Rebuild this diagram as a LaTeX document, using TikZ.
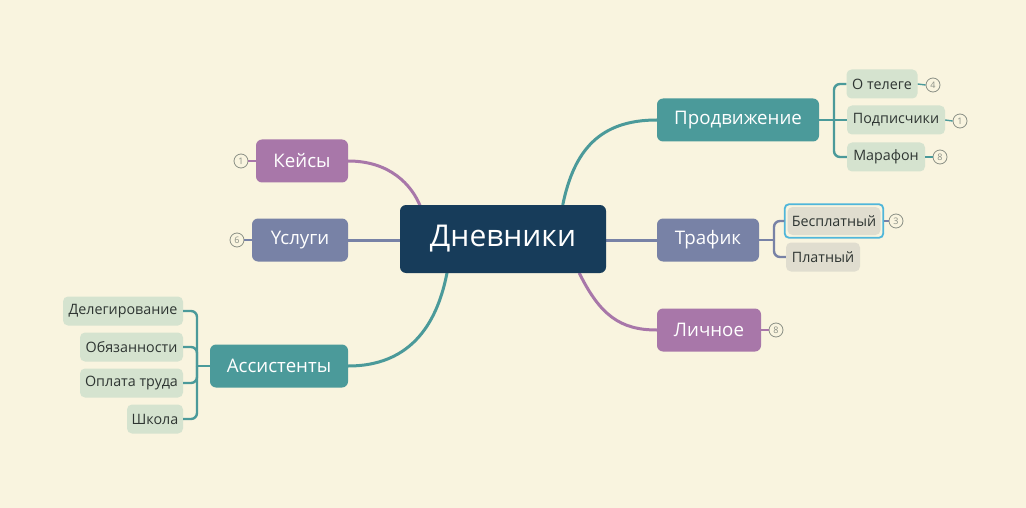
\documentclass[tikz,border=0pt]{standalone}
\usepackage{fontspec}
\setmainfont{Open Sans}
\usetikzlibrary{calc}
\definecolor{bg}{HTML}{F9F4DF}
\definecolor{rootc}{HTML}{173C5A}
\definecolor{tealc}{HTML}{4B9A9A}
\definecolor{slatec}{HTML}{7882A6}
\definecolor{purpc}{HTML}{A877A9}
\definecolor{greenleaf}{HTML}{D5E3CF}
\definecolor{grayleaf}{HTML}{E0DDCF}
\definecolor{selc}{HTML}{4FB6DA}
\definecolor{numc}{HTML}{8A8F85}
\definecolor{leaftext}{HTML}{2E3532}
\tikzset{
  rootbox/.style={fill=rootc, rounded corners=6pt, text=white, font=\fontsize{30}{36}\selectfont, minimum width=206pt, minimum height=68pt, inner sep=0pt},
  mainbox/.style={fill=#1, rounded corners=6pt, text=white, font=\fontsize{18.7}{22}\selectfont, minimum height=43pt, inner sep=0pt},
  leafbox/.style={fill=#1, rounded corners=5pt, text=leaftext, font=\fontsize{14.3}{17}\selectfont, minimum height=29pt, inner sep=0pt},
  numc/.style={circle, draw=numc, line width=0.8pt, fill=bg, minimum size=14pt, inner sep=0pt, text=numc, font=\fontsize{9}{10}\selectfont},
  branch/.style={draw=#1, line width=3pt},
  sub/.style={draw=#1, line width=2.4pt, rounded corners=6pt},
  tick/.style={draw=#1, line width=1.4pt},
}
\begin{document}
\begin{tikzpicture}[x=1pt,y=-1pt]
\fill[bg] (0,0) rectangle (1026,508);
\useasboundingbox (0,0) rectangle (1026,508);

% main nodes
\node[mainbox=tealc, minimum width=162pt] (prod) at (738,120) {Продвижение};
\node[mainbox=slatec, minimum width=102pt] (traf) at (708,240) {Трафик};
\node[mainbox=purpc, minimum width=104pt] (lich) at (709,330) {Личное};
\node[mainbox=purpc, minimum width=92pt] (keis) at (302,161) {Кейсы};
\node[mainbox=slatec, minimum width=96pt] (usl) at (300,240) {Үслуги};
\node[mainbox=tealc, minimum width=138pt] (ass) at (279,366) {Ассистенты};

% branches (drawn before root)
\draw[branch=tealc] ($(400,205)!0.79!(606,205)$) .. controls (574,150) and (600,120) .. (prod.west);
\draw[branch=slatec] (606,240) -- (traf.west);
\draw[branch=purpc] ($(400,273)!0.87!(606,273)$) .. controls (600,315) and (620,330) .. (lich.west);
\draw[branch=purpc] (keis.east) .. controls (390,161) and (412,185) .. ($(400,207)!0.1!(606,207)$);
\draw[branch=slatec] (usl.east) -- (400,240);
\draw[branch=tealc] (ass.east) .. controls (420,366) and (440,310) .. ($(400,271)!0.23!(606,271)$);

\node[rootbox] (root) at (503,239) {Дневники};

% Продвижение leaves
\node[leafbox=greenleaf, minimum width=71pt] (tel) at (882,84) {О телеге};
\node[leafbox=greenleaf, minimum width=98pt] (pod) at (896,120) {Подписчики};
\node[leafbox=greenleaf, minimum width=78pt] (mar) at (886,157) {Марафон};
\coordinate (pb) at (834,120);
\draw[sub=tealc] (prod.east) -- (pb);
\draw[sub=tealc] (tel.west) -- (tel.west -| pb) -- (pb);
\draw[sub=tealc] (mar.west) -- (mar.west -| pb) -- (pb);
\draw[sub=tealc] (pod.west) -- (pb);

% Трафик leaves
\node[leafbox=grayleaf, minimum width=93pt, minimum height=28pt] (besp) at (834,221) {Бесплатный};
\draw[selc, line width=1.8pt, rounded corners=4pt] ($(besp.south west)+(-2.5,2.5)$) rectangle ($(besp.north east)+(2.5,-2.5)$);
\node[leafbox=grayleaf, minimum width=74pt] (plat) at (823,257) {Платный};
\coordinate (tb) at (774,240);
\draw[sub=slatec] (traf.east) -- (tb);
\draw[sub=slatec] ($(besp.west)+(-3,0)$) -- (besp.west -| tb) -- (tb);
\draw[sub=slatec] (plat.west) -- (plat.west -| tb) -- (tb);

% Ассистенты leaves
\node[leafbox=greenleaf, minimum width=120pt] (deleg) at (123,311) {Делегирование};
\node[leafbox=greenleaf, minimum width=103pt] (obyaz) at (131.5,347) {Обязанности};
\node[leafbox=greenleaf, minimum width=103pt] (opl) at (131.5,383) {Оплата труда};
\node[leafbox=greenleaf, minimum width=56pt] (shk) at (155,419) {Школа};
\coordinate (ab) at (197,366);
\draw[sub=tealc] (ass.west) -- (ab);
\draw[sub=tealc] (deleg.east) -- (deleg.east -| ab) -- (ab);
\draw[sub=tealc] (obyaz.east) -- (obyaz.east -| ab) -- (ab);
\draw[sub=tealc] (opl.east) -- (opl.east -| ab) -- (ab);
\draw[sub=tealc] (shk.east) -- (shk.east -| ab) -- (ab);

% number markers
\node[numc] (n1) at (933,85) {4};
\node[numc] (n2) at (960,121) {1};
\node[numc] (n3) at (940,157) {8};
\node[numc] (n4) at (896,221) {3};
\node[numc] (n5) at (776,330) {8};
\node[numc] (n6) at (241,161) {1};
\node[numc] (n7) at (237,240) {6};
\draw[tick=tealc] (tel.east) -- (n1.west);
\draw[tick=tealc] (pod.east) -- (n2.west);
\draw[tick=tealc] (mar.east) -- (n3.west);
\draw[tick=slatec] ($(besp.east)+(3,0)$) -- (n4.west);
\draw[tick=purpc] (lich.east) -- (n5.west);
\draw[tick=purpc] (n6.east) -- (keis.west);
\draw[tick=slatec] (n7.east) -- (usl.west);
\end{tikzpicture}
\end{document}
